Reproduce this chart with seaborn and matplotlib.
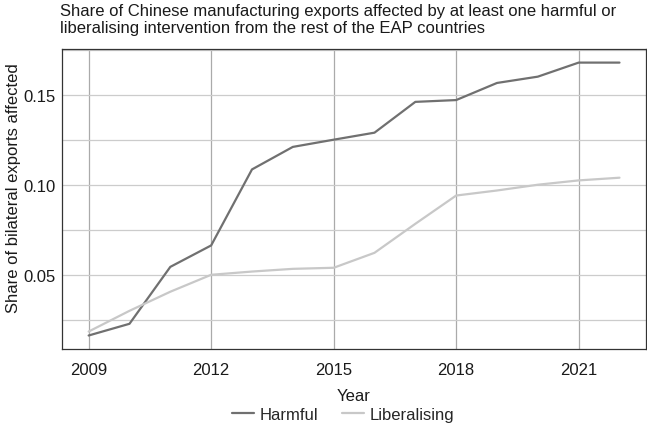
import pandas as pd
import numpy as np
import matplotlib.pyplot as plt
import seaborn as sns
from matplotlib.ticker import MultipleLocator

years = list(range(2009, 2023))
harmful = [0.0163, 0.0228, 0.0544, 0.0663, 0.1085, 0.1210, 0.1250, 0.1289,
           0.1460, 0.1470, 0.1565, 0.1600, 0.1678, 0.1678]
liberalising = [0.0185, 0.0300, 0.0406, 0.0500, 0.0518, 0.0533, 0.0539, 0.0622,
                0.0783, 0.0940, 0.0968, 0.1000, 0.1024, 0.1039]

df = pd.DataFrame({
    'Year': years * 2,
    'valor': harmful + liberalising,
    'tipo': ['Harmful'] * len(years) + ['Liberalising'] * len(years),
})

sns.set_theme(style='white')
plt.rcParams['font.family'] = ['Liberation Sans', 'DejaVu Sans']

fig = plt.figure(figsize=(6.47, 4.27), dpi=100)
ax = fig.add_axes([0.096, 0.18, 0.9025, 0.703])

sns.lineplot(data=df, x='Year', y='valor', hue='tipo',
             palette={'Harmful': '#707070', 'Liberalising': '#c8c8c8'},
             linewidth=1.6, ax=ax, legend=True)

ax.set_xticks([2009, 2012, 2015, 2018, 2021])
ax.yaxis.set_major_locator(MultipleLocator(0.05))
ax.yaxis.set_minor_locator(MultipleLocator(0.025))
ax.set_yticks([0.05, 0.10, 0.15])
ax.set_yticklabels(['0.05', '0.10', '0.15'])
ax.grid(True, which='major', axis='x', color='#aaaaaa', linewidth=0.9)
ax.grid(True, which='both', axis='y', color='#cccccc', linewidth=0.9)
ax.set_axisbelow(True)
ax.margins(x=0.05, y=0.05)

for s in ax.spines.values():
    s.set_color('#333333')
    s.set_linewidth(0.9)

ax.tick_params(axis='both', which='both', length=0, labelsize=12, colors='#1a1a1a')
ax.tick_params(axis='x', pad=9)
ax.tick_params(axis='y', pad=5)
ax.set_xlabel('Year', fontsize=12, color='#1a1a1a', labelpad=8)
ax.set_ylabel('Share of bilateral exports affected', fontsize=12, color='#1a1a1a')
ax.yaxis.set_label_coords(-0.071, 0.54)

ax.legend(title=None, frameon=False, ncol=2, loc='center',
          bbox_to_anchor=(0.53, 0.027), bbox_transform=fig.transFigure,
          fontsize=12, handlelength=1.35, columnspacing=1.45,
          handletextpad=0.3, borderaxespad=0, borderpad=0)

fig.text(0.093, 0.99, 'Share of Chinese manufacturing exports affected by at least one harmful or\n'
         'liberalising intervention from the rest of the EAP countries',
         ha='left', va='top', fontsize=12, color='#1a1a1a', linespacing=1.15)

fig.savefig('out.png', dpi=100)
plt.close()
